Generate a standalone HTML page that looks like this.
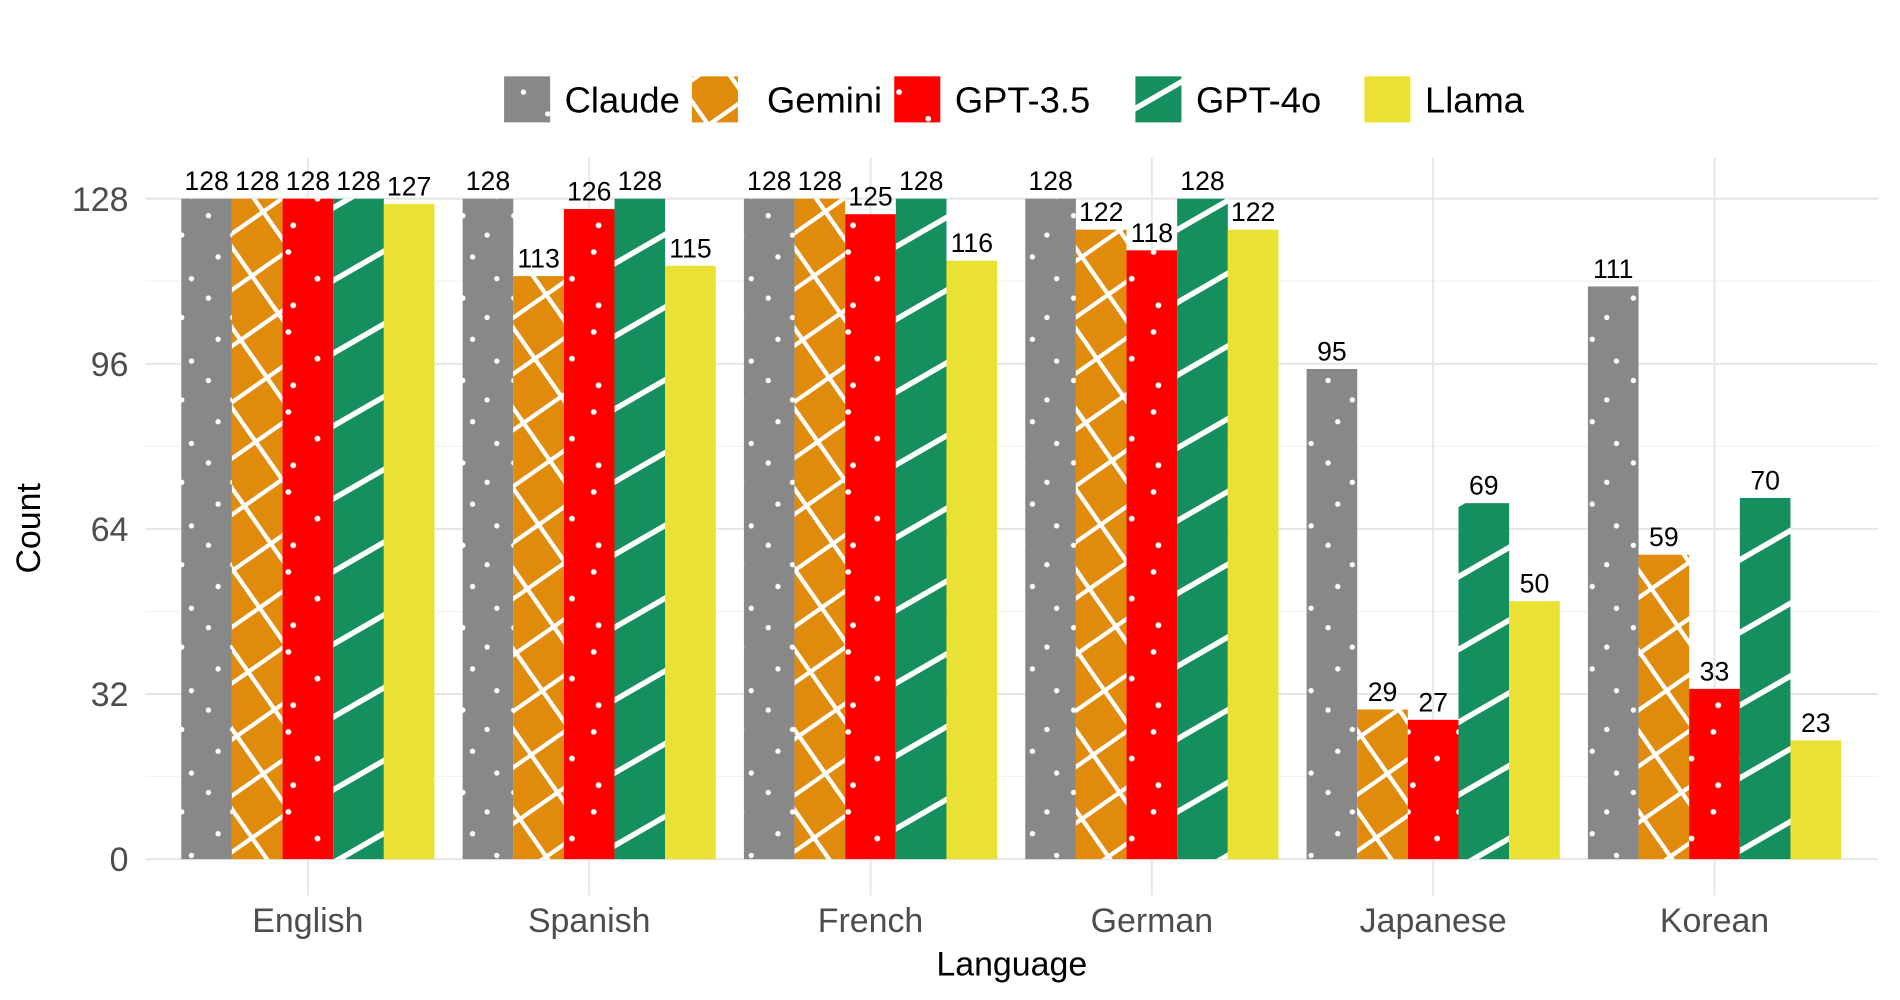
<!DOCTYPE html>
<html><head><meta charset="utf-8"><style>
html,body{margin:0;padding:0;background:#fff}
svg{display:block;font-family:"Liberation Sans",Arial,sans-serif}
</style></head><body>
<svg id="chart" width="1900" height="1000" viewBox="0 0 1568 825.26" xmlns="http://www.w3.org/2000/svg">
<defs>
<pattern id="p-dots" patternUnits="userSpaceOnUse" width="42" height="68">
<rect width="42" height="68" fill="#888888"/>
<circle cx="12" cy="8" r="2.2" fill="#fff"/><circle cx="32" cy="26" r="2.2" fill="#fff"/>
<circle cx="4" cy="42" r="2.2" fill="#fff"/><circle cx="24" cy="58" r="2.2" fill="#fff"/>
</pattern>
<pattern id="p-dots-red" patternUnits="userSpaceOnUse" width="42" height="66">
<rect width="42" height="66" fill="#ff0000"/>
<circle cx="28" cy="10" r="2.4" fill="#fff"/><circle cx="10" cy="32" r="2.4" fill="#fff"/>
<circle cx="32" cy="54" r="2.4" fill="#fff"/>
</pattern>
<pattern id="p-cross" patternUnits="userSpaceOnUse" width="38" height="38" patternTransform="rotate(-35)">
<rect width="38" height="38" fill="#e08b0b"/>
<line x1="0" y1="0" x2="38" y2="0" stroke="#fff" stroke-width="7"/>
<line x1="0" y1="0" x2="0" y2="38" stroke="#fff" stroke-width="7"/>
</pattern>
<pattern id="p-stripe" patternUnits="userSpaceOnUse" width="60" height="52" patternTransform="rotate(-30)">
<rect width="60" height="52" fill="#168f5e"/>
<line x1="0" y1="26" x2="60" y2="26" stroke="#fff" stroke-width="4.5"/>
</pattern>
</defs>
<g id="grid"></g>
<g id="bars"></g>
<g id="labels"></g>
<g id="legend"></g>
<text x="0" y="0" transform="translate(33,436) rotate(-90)" font-size="28" text-anchor="middle" fill="#000">Count</text>
<text x="835" y="805" font-size="28" text-anchor="middle" fill="#000">Language</text>
</svg>
<script>
const categories = ["English","Spanish","French","German","Japanese","Korean"];
const seriesNames = ["Claude","Gemini","GPT-3.5","GPT-4o","Llama"];
const claude = [128,128,128,128,95,111];
const gemini = [128,113,128,122,29,59];
const gpt35 = [128,126,125,118,27,33];
const gpt4o = [128,128,128,128,69,70];
const llama = [127,115,116,122,50,23];
const yTicks = [0,32,64,96,128];

const series = [claude, gemini, gpt35, gpt4o, llama];
const fills = ["url(#p-dots)","url(#p-cross)","url(#p-dots-red)","url(#p-stripe)","#ebe034"];
const NS = "http://www.w3.org/2000/svg";
const gridL = 120, gridR = 1550;
const plotL = 138, plotR = 1531, y0 = 709, y128 = 164;
const yScale = v => y0 - (v/128)*(y0-y128);
const step = (plotR-plotL)/categories.length;
const xCenter = i => plotL + step*(i+0.5);
const barW = step*0.9/series.length;
function mk(tag, attrs, parent){const e=document.createElementNS(NS,tag);for(const k in attrs)e.setAttribute(k,attrs[k]);parent.appendChild(e);return e;}
const grid = document.getElementById('grid'), bars = document.getElementById('bars'), labels = document.getElementById('labels');
for(let t=0;t<yTicks.length-1;t++){
  const v=(yTicks[t]+yTicks[t+1])/2;
  const l=mk('line',{x1:gridL,x2:gridR,y1:yScale(v),y2:yScale(v),stroke:'#f2f2f2','stroke-width':1},grid);
  
  
}
yTicks.forEach(v=>{
  const l=mk('line',{x1:gridL,x2:gridR,y1:yScale(v),y2:yScale(v),stroke:'#e6e6e6','stroke-width':1.6},grid);
  
  
  const t=mk('text',{x:gridL-14,y:yScale(v)+10,'font-size':28,'text-anchor':'end',fill:'#4d4d4d'},grid);
  t.textContent=v;
  
  
});
categories.forEach((c,i)=>{
  const l=mk('line',{x1:xCenter(i),x2:xCenter(i),y1:130,y2:y0+30,stroke:'#e6e6e6','stroke-width':1.6},grid);
  
  
  const t=mk('text',{x:xCenter(i),y:769,'font-size':28,'text-anchor':'middle',fill:'#4d4d4d'},grid);
  t.textContent=c;
  
  
});
series.forEach((vals,s)=>{
  vals.forEach((v,i)=>{
    const x=xCenter(i)-step*0.45+barW*s;
    const r=mk('rect',{x:x,y:yScale(v),width:barW,height:y0-yScale(v),fill:fills[s]},bars);
    
    
    const t=mk('text',{x:x+barW/2,y:yScale(v)-7,'font-size':22,'text-anchor':'middle',fill:'#000'},labels);
    t.textContent=v;
    
    
  });
});
const legend=document.getElementById('legend');
const keyX=[416,571,738,937,1126];
seriesNames.forEach((n,s)=>{
  const g=mk('g',{},legend);
  
  
  mk('rect',{x:keyX[s],y:63,width:38,height:38,fill:fills[s]},g);
  const t=mk('text',{x:keyX[s]+(s==1?62:50),y:93,'font-size':30,fill:'#000'},g);
  t.textContent=n;
});
</script>
</body></html>
